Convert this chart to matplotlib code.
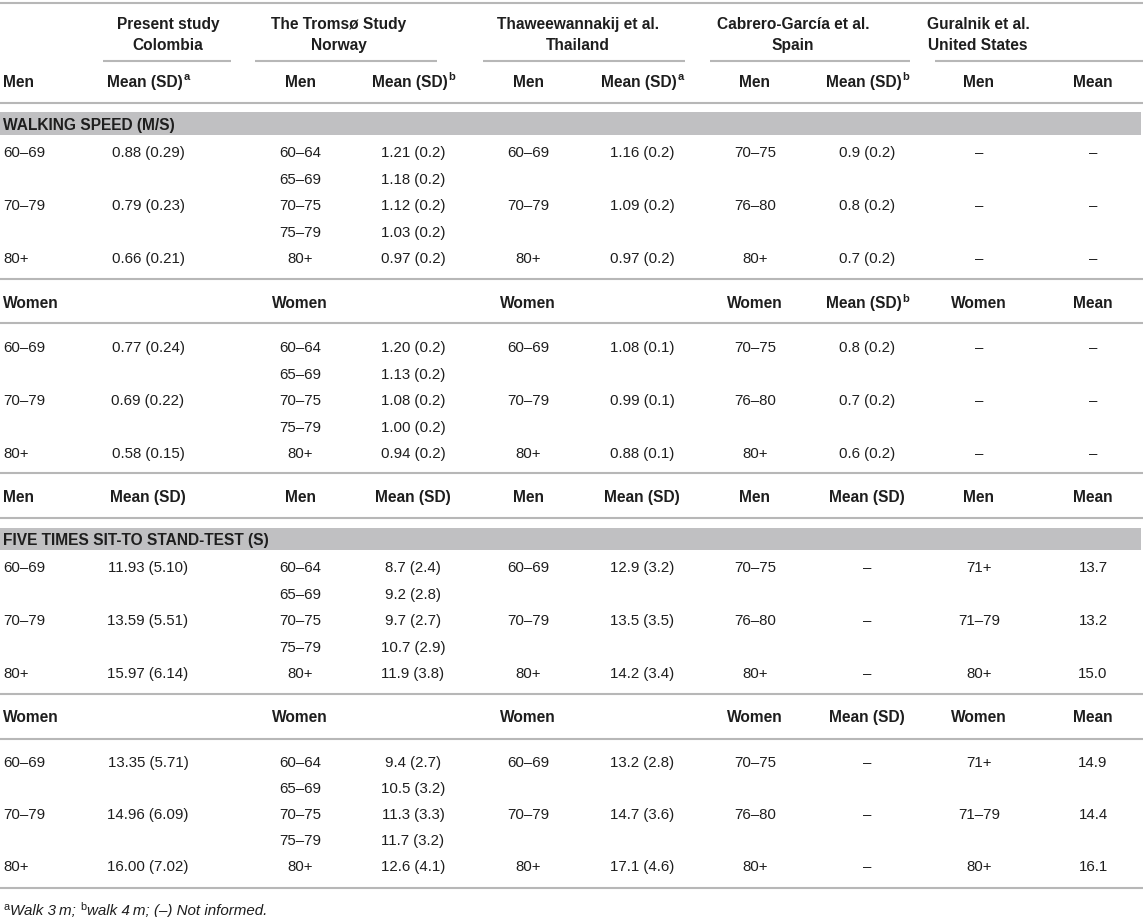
import matplotlib.pyplot as plt

plt.rcParams['font.family'] = ['Liberation Sans', 'DejaVu Sans']

W, H = 1143, 917
INK = '#1e1e1e'
RULE = '#b7b7b7'
BAND = '#c0c0c2'
FS = 10.8
FS_BOLD = 11.2

# study header
studies = ['Present study', 'The Tromsø Study', 'Thaweewannakij et al.',
           'Cabrero-García et al.', 'Guralnik et al.']
countries = ['Colombia', 'Norway', 'Thailand', 'Spain', 'United States']

sections = ['WALKING SPEED (M/S)', 'FIVE TIMES SIT-TO STAND-TEST (S)']

# column header rows ("|x" marks a superscript)
hdr_ws_men = ['Men', 'Mean (SD)|a', 'Men', 'Mean (SD)|b', 'Men', 'Mean (SD)|a',
              'Men', 'Mean (SD)|b', 'Men', 'Mean']
hdr_ws_women = ['Women', '', 'Women', '', 'Women', '', 'Women', 'Mean (SD)|b',
                'Women', 'Mean']
hdr_st_men = ['Men', 'Mean (SD)', 'Men', 'Mean (SD)', 'Men', 'Mean (SD)',
              'Men', 'Mean (SD)', 'Men', 'Mean']
hdr_st_women = ['Women', '', 'Women', '', 'Women', '', 'Women', 'Mean (SD)',
                'Women', 'Mean']

# age groups
present_age = ['60–69', '', '70–79', '', '80+']
tromso_age = ['60–64', '65–69', '70–75', '75–79', '80+']
thaw_age = ['60–69', '', '70–79', '', '80+']
cabrero_age = ['70–75', '', '76–80', '', '80+']
guralnik_age_ws = ['–', '', '–', '', '–']
guralnik_age_st = ['71+', '', '71–79', '', '80+']

# walking speed, men
ws_men_present = ['0.88 (0.29)', '', '0.79 (0.23)', '', '0.66 (0.21)']
ws_men_tromso = ['1.21 (0.2)', '1.18 (0.2)', '1.12 (0.2)', '1.03 (0.2)', '0.97 (0.2)']
ws_men_thaw = ['1.16 (0.2)', '', '1.09 (0.2)', '', '0.97 (0.2)']
ws_men_cabrero = ['0.9 (0.2)', '', '0.8 (0.2)', '', '0.7 (0.2)']
ws_men_guralnik = ['–', '', '–', '', '–']

# walking speed, women
ws_women_present = ['0.77 (0.24)', '', '0.69 (0.22)', '', '0.58 (0.15)']
ws_women_tromso = ['1.20 (0.2)', '1.13 (0.2)', '1.08 (0.2)', '1.00 (0.2)', '0.94 (0.2)']
ws_women_thaw = ['1.08 (0.1)', '', '0.99 (0.1)', '', '0.88 (0.1)']
ws_women_cabrero = ['0.8 (0.2)', '', '0.7 (0.2)', '', '0.6 (0.2)']
ws_women_guralnik = ['–', '', '–', '', '–']

# sit-to-stand, men
st_men_present = ['11.93 (5.10)', '', '13.59 (5.51)', '', '15.97 (6.14)']
st_men_tromso = ['8.7 (2.4)', '9.2 (2.8)', '9.7 (2.7)', '10.7 (2.9)', '11.9 (3.8)']
st_men_thaw = ['12.9 (3.2)', '', '13.5 (3.5)', '', '14.2 (3.4)']
st_men_cabrero = ['–', '', '–', '', '–']
st_men_guralnik = ['13.7', '', '13.2', '', '15.0']

# sit-to-stand, women
st_women_present = ['13.35 (5.71)', '', '14.96 (6.09)', '', '16.00 (7.02)']
st_women_tromso = ['9.4 (2.7)', '10.5 (3.2)', '11.3 (3.3)', '11.7 (3.2)', '12.6 (4.1)']
st_women_thaw = ['13.2 (2.8)', '', '14.7 (3.6)', '', '17.1 (4.6)']
st_women_cabrero = ['–', '', '–', '', '–']
st_women_guralnik = ['14.9', '', '14.4', '', '16.1']

# layout (pixels)
col_x = [3, 148, 300, 413, 528, 642, 755, 867, 979, 1093]
group_span = [(103, 231), (255, 437), (483, 685), (710, 910), (935, 1143)]
group_cx = [168, 339, 578, 793, 978]

fig = plt.figure(figsize=(W / 100, H / 100), dpi=100)
ax = fig.add_axes([0, 0, 1, 1])
ax.set_xlim(0, W)
ax.set_ylim(H, 0)
ax.axis('off')
renderer = fig.canvas.get_renderer()
inv = ax.transData.inverted()


def put(x, y, s, ha='center', bold=False, size=None, style='normal'):
    # y is the visual centre of the caps
    if size is None:
        size = FS_BOLD if bold else FS
    return ax.text(x, y + size * 100 / 72 * 0.36, s, ha=ha, va='baseline',
                   fontsize=size, fontweight='bold' if bold else 'normal',
                   fontstyle=style, color=INK)


def right_edge(t):
    bb = t.get_window_extent(renderer=renderer)
    return inv.transform((bb.x1, bb.y0))[0]


def put_header(x, y, s, ha='center'):
    if '|' in s:
        base, sup = s.split('|')
        t = put(x - 3, y, base, ha=ha, bold=True)
        ax.text(right_edge(t) + 0.5, y - 3.5, sup, ha='left', va='center',
                fontsize=8, fontweight='bold', color=INK)
    elif s:
        put(x, y, s, ha=ha, bold=True)


def rule(y):
    ax.plot([0, W], [y, y], color=RULE, lw=1.5, solid_capstyle='butt')


def band(y0, y1, title):
    ax.axhspan(y0, y1, xmin=0, xmax=1141 / W, color=BAND, lw=0)
    put(3, (y0 + y1) / 2 + 0.5, title, ha='left', bold=True)


def header_row(y, labels):
    for i, s in enumerate(labels):
        put_header(col_x[i], y, s, ha='left' if i == 0 else 'center')


def body(y0, step, cols):
    for i, col in enumerate(cols):
        for k, s in enumerate(col):
            if s:
                put(col_x[i], y0 + k * step, s, ha='left' if i == 0 else 'center')


# top
rule(3)
for cx, s1, s2 in zip(group_cx, studies, countries):
    put(cx, 23, s1, bold=True)
    put(cx, 44, s2, bold=True)
for a, b in group_span:
    ax.plot([a, b], [61, 61], color=RULE, lw=1.5, solid_capstyle='butt')

# walking speed
header_row(81, hdr_ws_men)
rule(103)
band(112, 135, sections[0])
body(152, 26.4, [present_age, ws_men_present, tromso_age, ws_men_tromso,
                 thaw_age, ws_men_thaw, cabrero_age, ws_men_cabrero,
                 guralnik_age_ws, ws_men_guralnik])
rule(279)
header_row(302, hdr_ws_women)
rule(323)
body(347, 26.4, [present_age, ws_women_present, tromso_age, ws_women_tromso,
                 thaw_age, ws_women_thaw, cabrero_age, ws_women_cabrero,
                 guralnik_age_ws, ws_women_guralnik])
rule(473)

# sit-to-stand
header_row(496, hdr_st_men)
rule(518)
band(528, 550, sections[1])
body(567, 26.4, [present_age, st_men_present, tromso_age, st_men_tromso,
                 thaw_age, st_men_thaw, cabrero_age, st_men_cabrero,
                 guralnik_age_st, st_men_guralnik])
rule(694)
header_row(716, hdr_st_women)
rule(739)
body(762, 26.0, [present_age, st_women_present, tromso_age, st_women_tromso,
                 thaw_age, st_women_thaw, cabrero_age, st_women_cabrero,
                 guralnik_age_st, st_women_guralnik])
rule(888)

# footnote
fy = 910
parts = [('a', True), ('Walk 3\u2009m; ', False), ('b', True),
         ('walk 4\u2009m; (–) Not informed.', False)]
x = 3
for s, sup in parts:
    if sup:
        t = ax.text(x, fy - 3.5, s, ha='left', va='center', fontsize=7.8, color=INK)
    else:
        t = put(x, fy, s, ha='left', size=10.9, style='italic')
    x = right_edge(t) + (0.8 if sup else 0)

fig.savefig('out.png', dpi=100)
